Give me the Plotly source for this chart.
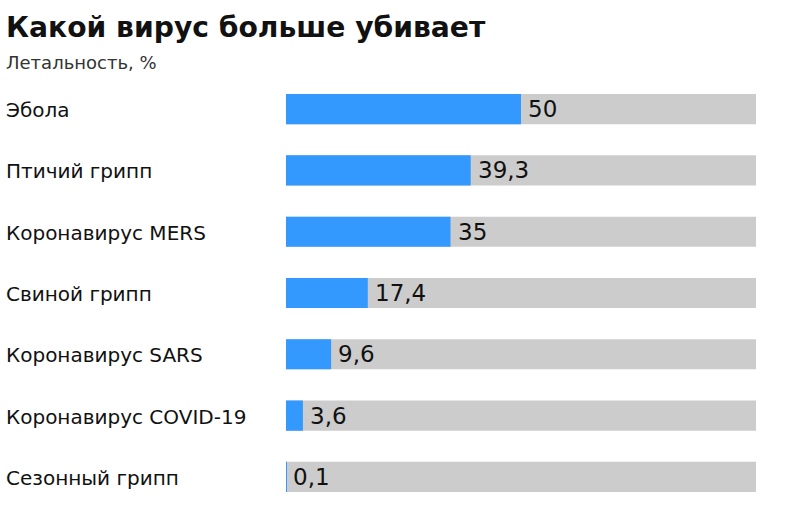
import plotly.graph_objects as go

categories = ["Эбола", "Птичий грипп", "Коронавирус MERS", "Свиной грипп",
              "Коронавирус SARS", "Коронавирус COVID-19", "Сезонный грипп"]
values = [50, 39.3, 35, 17.4, 9.6, 3.6, 0.1]
value_labels = ["50", "39,3", "35", "17,4", "9,6", "3,6", "0,1"]
full_scale = [100] * len(categories)

W, H = 785, 524
FONT = "DejaVu Sans"

fig = go.Figure()
fig.add_trace(go.Bar(y=categories, x=full_scale, orientation="h",
                     marker=dict(color="#cccccc", line=dict(width=0)),
                     hoverinfo="skip", showlegend=False))
fig.add_trace(go.Bar(y=categories, x=values, orientation="h",
                     marker=dict(color="#3399ff", line=dict(width=0)),
                     showlegend=False))

annotations = []
for c, v, lab in zip(categories, values, value_labels):
    annotations.append(dict(x=4 / W, xref="paper", y=c, yref="y", text=c,
                            xanchor="left", yanchor="middle", showarrow=False,
                            yshift=-1,
                            font=dict(family=FONT, size=20, color="#111111")))
    annotations.append(dict(x=v, xref="x", y=c, yref="y", text=lab,
                            xanchor="left", yanchor="middle", showarrow=False,
                            xshift=5,
                            font=dict(family=FONT, size=23, color="#111111")))

annotations.append(dict(x=4 / W, xref="paper", y=1 - 28 / H, yref="paper",
                        text="<b>Какой вирус больше убивает</b>", xanchor="left",
                        yanchor="middle", showarrow=False,
                        font=dict(family=FONT, size=28.2, color="#111111")))
annotations.append(dict(x=4 / W, xref="paper", y=1 - 62 / H, yref="paper",
                        text="Летальность, %", xanchor="left",
                        yanchor="middle", showarrow=False,
                        font=dict(family=FONT, size=18, color="#333333")))

fig.update_layout(
    width=W, height=H,
    margin=dict(l=0, r=0, t=0, b=0),
    paper_bgcolor="white", plot_bgcolor="white",
    barmode="overlay", bargap=0.508,
    xaxis=dict(domain=[286 / W, 756 / W], range=[0, 100], visible=False,
               fixedrange=True),
    yaxis=dict(domain=[1 - 507.5 / H, 1 - 78.5 / H], autorange="reversed",
               visible=False, fixedrange=True),
    annotations=annotations,
)

fig.write_html("out.html")
